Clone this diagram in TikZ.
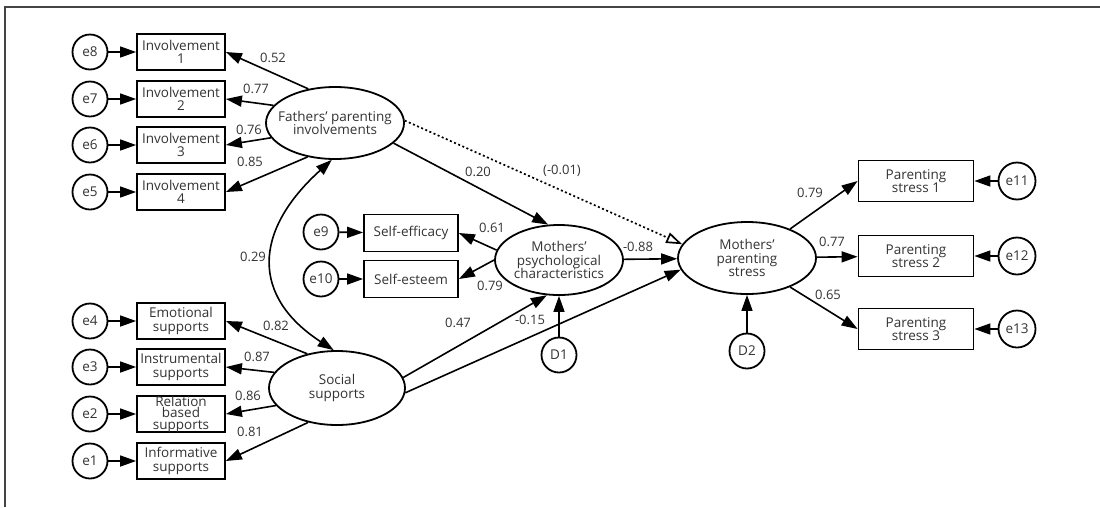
\documentclass[tikz,border=0pt]{standalone}
\usepackage{fontspec}
\setmainfont{Open Sans}
\usetikzlibrary{arrows.meta,shapes.geometric}
\definecolor{txt}{HTML}{333333}
\definecolor{framec}{HTML}{444444}
\begin{document}
\begin{tikzpicture}[x=1pt,y=-1pt,
  every node/.style={font=\fontsize{13.5}{13.5}\selectfont, text=txt},
  lat/.style={ellipse, draw, line width=1.8pt, inner sep=0pt, align=center},
  obs/.style={rectangle, draw, line width=1.8pt, inner sep=0pt, minimum width=88pt, minimum height=36pt, align=center},
  obsr/.style={obs, minimum width=115pt, minimum height=41pt},
  obsm/.style={obs, minimum width=94pt, minimum height=37pt},
  err/.style={circle, draw, line width=1.8pt, inner sep=0pt, minimum size=35pt},
  pth/.style={line width=1.6pt, -{Triangle[length=16pt,width=11pt]}},
  covar/.style={line width=1.6pt, {Triangle[length=16pt,width=11pt]}-{Triangle[length=16pt,width=11pt]}},
  dotpath/.style={line width=1.7pt, dash pattern=on 2pt off 2.5pt, -{Triangle[open,length=16pt,width=11pt]}},
  lbl/.style={inner sep=1pt, font=\fontsize{13}{13}\selectfont}
]
\useasboundingbox (0,0) rectangle (1100,507);
\draw[framec, line width=1.2pt] (5,507) -- (5,7) -- (1100,7);

% latent variables
\node[lat, inner xsep=-8pt, minimum width=136pt, minimum height=72pt] (F) at (335,123) {Fathers' parenting\\involvements};
\node[lat, minimum width=136pt, minimum height=74pt] (S) at (337,388) {Social\\supports};
\node[lat, inner xsep=-3pt, minimum width=128pt, minimum height=70pt] (MP) at (559,260) {Mothers'\\psychological\\characteristics};
\node[lat, minimum width=138pt, minimum height=72pt] (MS) at (747,258) {Mothers'\\parenting\\stress};

% left observed
\node[obs] (I1) at (181,52) {Involvement\\1};
\node[obs] (I2) at (181,99) {Involvement\\2};
\node[obs] (I3) at (181,145) {Involvement\\3};
\node[obs] (I4) at (181,192) {Involvement\\4};
\node[obs] (B1) at (181,321) {Emotional\\supports};
\node[obs] (B2) at (181,367) {Instrumental\\supports};
\node[obs, font=\fontsize{13.5}{11.5}\selectfont] (B3) at (181,414) {Relation\\based\\supports};
\node[obs] (B4) at (181,461) {Informative\\supports};

\node[err] (e8) at (90,52) {e8};
\node[err] (e7) at (90,99) {e7};
\node[err] (e6) at (90,145) {e6};
\node[err] (e5) at (90,192) {e5};
\node[err] (e4) at (90,321) {e4};
\node[err] (e3) at (90,367) {e3};
\node[err] (e2) at (90,414) {e2};
\node[err] (e1) at (90,461) {e1};

% middle
\node[obsm] (SE) at (411,233) {Self-efficacy};
\node[obsm] (SS) at (411,279) {Self-esteem};
\node[err] (e9) at (321,232) {e9};
\node[err] (e10) at (321,279) {e10};
\node[err] (D1) at (559,355) {D1};
\node[err] (D2) at (747,351) {D2};

% right
\node[obsr] (P1) at (916,181) {Parenting\\stress 1};
\node[obsr] (P2) at (916,256) {Parenting\\stress 2};
\node[obsr] (P3) at (916,329) {Parenting\\stress 3};
\node[err, minimum size=37pt] (e11) at (1017,181) {e11};
\node[err, minimum size=37pt] (e12) at (1017,256) {e12};
\node[err, minimum size=37pt] (e13) at (1017,329) {e13};

% error arrows
\foreach \e/\b in {e8/I1,e7/I2,e6/I3,e5/I4,e4/B1,e3/B2,e2/B3,e1/B4,e9/SE,e10/SS,e11/P1,e12/P2,e13/P3}
  \draw[pth] (\e) -- (\b);

% loadings
\draw[pth] (F.128) -- (I1.east);
\draw[pth] (F.164) -- (I2.east);
\draw[pth] (F.193) -- (I3.east);
\draw[pth] (F.231) -- (I4.east);
\draw[pth] (S.131) -- (B1.east);
\draw[pth] (S.166) -- (B2.east);
\draw[pth] (S.196) -- (B3.east);
\draw[pth] (S.230) -- (B4.east);
\draw[pth] (MP.171) -- (SE.east);
\draw[pth] (MP.180) -- (SS.east);
\draw[pth] (MS.34) -- (P1.west);
\draw[pth] (MS) -- (P2);
\draw[pth] (MS.326) -- (P3.west);

% structural
\draw[covar] (F.265) .. controls (252,232) and (252,297) .. (S.95);
\draw[pth] (F.341) -- (MP.107);
\draw[dotpath] (F.2) -- (MS.168);
\draw[pth] (MP) -- (MS);
\draw[pth] (S.9) -- (MP.251);
\draw[pth] (S.356) -- (MS.190);
\draw[pth] (D1) -- (MP);
\draw[pth] (D2) -- (MS);

% labels
\node[lbl] (l1) at (273,58) {0.52};
\node[lbl] (l2) at (256,89) {0.77};
\node[lbl] (l3) at (249,130) {0.76};
\node[lbl] (l4) at (250,162) {0.85};
\node[lbl] (l5) at (253,257) {0.29};
\node[lbl] (l6) at (276,326) {0.82};
\node[lbl] (l7) at (257,357) {0.87};
\node[lbl] (l8) at (248,396) {0.86};
\node[lbl] (l9) at (250,432) {0.81};
\node[lbl] (l10) at (478,172) {0.20};
\node[lbl] (l11) at (562,171) {(-0.01)};
\node[lbl] (l12) at (492,228) {0.61};
\node[lbl] (l13) at (490,286) {0.79};
\node[lbl] (l14) at (638,247) {-0.88};
\node[lbl] (l15) at (458,323) {0.47};
\node[lbl] (l16) at (530,320) {-0.15};
\node[lbl] (l17) at (810,193) {0.79};
\node[lbl] (l18) at (832,242) {0.77};
\node[lbl] (l19) at (828,295) {0.65};
\end{tikzpicture}
\end{document}
